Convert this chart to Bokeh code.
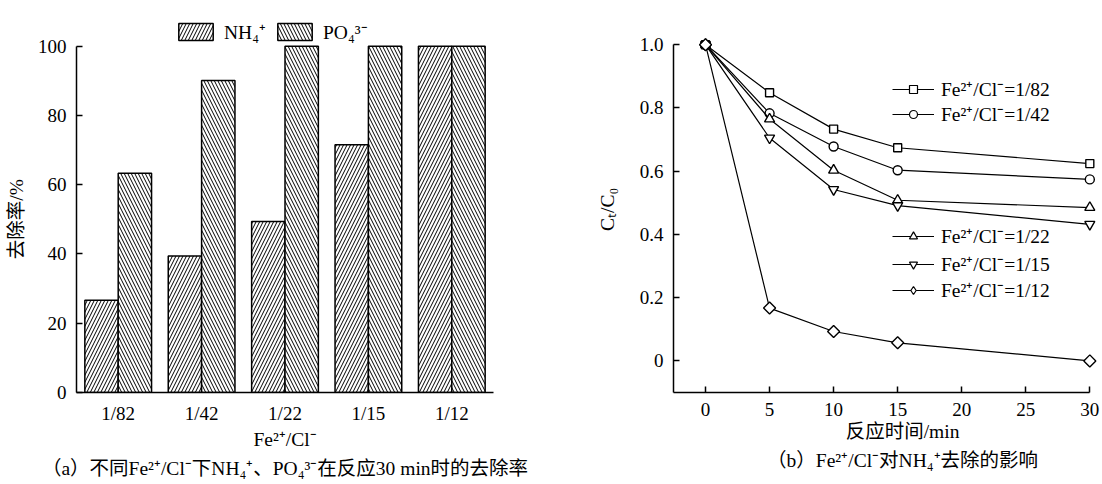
import math
from bokeh.plotting import figure
from bokeh.models import (FactorRange, Range1d, FixedTicker, Legend, LegendItem,
                          Title, ColumnDataSource, PrintfTickFormatter)
from bokeh.transform import dodge
from bokeh.layouts import row
from bokeh.embed import file_html
from bokeh.resources import INLINE

# ---------------- data ----------------
categories = ["1/82", "1/42", "1/22", "1/15", "1/12"]
nh4_removal = [26.6, 39.4, 49.4, 71.5, 100.0]
po4_removal = [63.3, 90.1, 100.0, 100.0, 100.0]

time_min = [0, 5, 10, 15, 30]
ratio_labels = ["1/82", "1/42", "1/22", "1/15", "1/12"]
ct_1_82 = [1.0, 0.848, 0.733, 0.674, 0.624]
ct_1_42 = [1.0, 0.783, 0.678, 0.603, 0.574]
ct_1_22 = [1.0, 0.765, 0.603, 0.508, 0.485]
ct_1_15 = [1.0, 0.705, 0.542, 0.491, 0.432]
ct_1_12 = [1.0, 0.167, 0.093, 0.057, 0.0]

y_ticks_a = [0, 20, 40, 60, 80, 100]
y_ticks_b = [0, 0.2, 0.4, 0.6, 0.8, 1.0]
x_ticks_b = [0, 5, 10, 15, 20, 25, 30]

FONT = "'Liberation Serif', 'Noto Sans CJK SC', serif"
TICK_FS = "19px"
FS = "19.5px"
NB = "\u00a0"


def style_axis(ax, ticks=True, label_standoff=2):
    ax.axis_line_color = "black"
    ax.axis_line_width = 1.5
    ax.major_tick_line_color = "black" if ticks else None
    ax.major_tick_line_width = 1.5
    ax.major_tick_in = 6
    ax.major_tick_out = 0
    ax.minor_tick_line_color = None
    ax.major_label_text_font = FONT
    ax.major_label_text_font_size = TICK_FS
    ax.major_label_text_color = "black"
    ax.major_label_standoff = 10
    ax.axis_label_text_font = FONT
    ax.axis_label_text_font_size = FS
    ax.axis_label_text_font_style = "normal"
    ax.axis_label_text_color = "black"
    ax.axis_label_standoff = label_standoff


def single_legend(item, loc, gw, gh):
    return Legend(items=[item], location=loc, glyph_width=gw, glyph_height=gh,
                  label_height=gh, label_text_line_height=1.0,
                  label_standoff=7, padding=0, margin=0, border_line_color=None,
                  background_fill_alpha=0, inactive_fill_alpha=0,
                  label_text_font=FONT, label_text_font_size=FS,
                  label_text_color="black")


def caption(p, text):
    t = Title(text=text, align="center", text_font=FONT, text_font_size=FS,
              text_font_style="normal", text_color="black", standoff=6)
    p.add_layout(t, "below")


# ---------------- (a) bar chart ----------------
src = ColumnDataSource(dict(cat=categories, nh4=nh4_removal, po4=po4_removal))
p1 = figure(width=551, height=484, x_range=FactorRange(*categories),
            y_range=Range1d(0, 110), output_backend="svg", toolbar_location=None,
            min_border_left=76, min_border_right=58, min_border_top=11,
            min_border_bottom=92)
p1.outline_line_color = None
p1.xgrid.grid_line_color = None
p1.ygrid.grid_line_color = None

r_nh4 = p1.vbar(x=dodge("cat", -0.2, range=p1.x_range), top="nh4", width=0.4,
                source=src, fill_color="white", line_color="black", line_width=1.5,
                hatch_pattern="/", hatch_scale=7, hatch_weight=1, hatch_color="black")
r_po4 = p1.vbar(x=dodge("cat", 0.2, range=p1.x_range), top="po4", width=0.4,
                source=src, fill_color="white", line_color="black", line_width=1.5,
                hatch_pattern="\\", hatch_scale=7, hatch_weight=1, hatch_color="black")

p1.yaxis.ticker = FixedTicker(ticks=y_ticks_a)
p1.yaxis.bounds = (0, 100)
p1.yaxis.axis_label = "去除率/%" + NB * 7
p1.xaxis.axis_label = "Fe²⁺/Cl⁻"
style_axis(p1.yaxis[0], label_standoff=8)
style_axis(p1.xaxis[0], ticks=False)

p1.add_layout(single_legend(LegendItem(label="NH₄⁺", renderers=[r_nh4]),
                            (98, 347), 43, 21))
p1.add_layout(single_legend(LegendItem(label="PO₄³⁻", renderers=[r_po4]),
                            (197, 347), 43, 21))

caption(p1, "（a）不同Fe²⁺/Cl⁻下NH₄⁺、PO₄³⁻在反应30 min时的去除率")

# ---------------- (b) line chart ----------------
p2 = figure(width=551, height=484, x_range=Range1d(-2.5, 30.6),
            y_range=Range1d(-0.1, 1.105), output_backend="svg", toolbar_location=None,
            min_border_left=122, min_border_right=5, min_border_top=11,
            min_border_bottom=92)
p2.outline_line_color = None
p2.xgrid.grid_line_color = None
p2.ygrid.grid_line_color = None

series = [ct_1_82, ct_1_42, ct_1_22, ct_1_15, ct_1_12]
markers = ["square", "circle", "triangle", "inverted_triangle", "square"]
sizes = [8, 9, 10, 10, 8.5]
angles = [0, 0, 0, 0, math.pi / 4]
legend_markers = ["square", "circle", "triangle", "inverted_triangle", "diamond"]
legend_sizes = [7, 7.5, 8.5, 8.5, 11]
legend_locs = [(219, 290), (219, 265), (219, 143), (219, 115), (219, 89)]
for lab, ys, m, s, a, lm, ls, loc in zip(ratio_labels, series, markers, sizes,
                                         angles, legend_markers, legend_sizes,
                                         legend_locs):
    p2.line(time_min, ys, line_color="black", line_width=1.2)
    p2.scatter(time_min, ys, marker=m, size=s, angle=a, fill_color="white",
               line_color="black", line_width=1.4)
    # hidden twins of each series that give the legend its glyph style
    kl = p2.line(time_min, ys, line_color="black", line_width=1.2, visible=False)
    km = p2.scatter(time_min, ys, marker=lm, size=ls, fill_color="white",
                    line_color="black", line_width=1.2, visible=False)
    p2.add_layout(single_legend(
        LegendItem(label="Fe²⁺/Cl⁻=" + lab, renderers=[kl, km]), loc, 42, 20))

p2.xaxis.ticker = FixedTicker(ticks=x_ticks_b)
p2.yaxis.ticker = FixedTicker(ticks=y_ticks_b)
p2.yaxis.formatter = PrintfTickFormatter(format="%.1f")
p2.yaxis.major_label_overrides = {0: "0"}
p2.xaxis.bounds = (-2.5, 30)
p2.yaxis.bounds = (-0.1, 1.0)
p2.xaxis.axis_label = NB * 7 + "反应时间/min"
p2.yaxis.axis_label = "Cₜ/C₀" + NB * 3
style_axis(p2.xaxis[0])
style_axis(p2.yaxis[0], label_standoff=19)

caption(p2, NB * 7 + "（b）Fe²⁺/Cl⁻对NH₄⁺去除的影响")

layout = row(p1, p2)
open("out.html", "w").write(file_html(layout, INLINE))
